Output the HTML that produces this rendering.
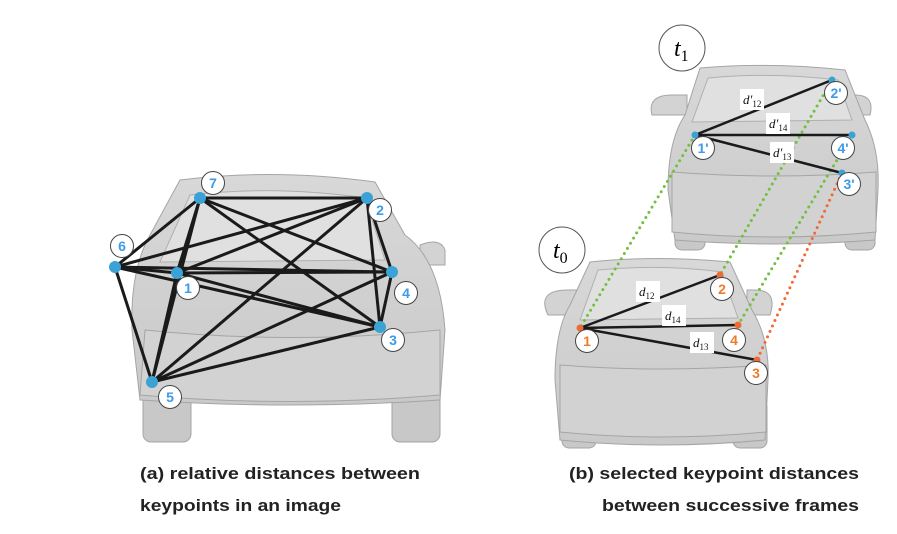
<!DOCTYPE html>
<html><head><meta charset="utf-8"><style>
html,body{margin:0;padding:0;background:#fff;}
svg{display:block;font-family:"Liberation Sans",sans-serif;}
</style></head><body>
<svg width="897" height="534" viewBox="0 0 897 534">
<defs>
<linearGradient id="gl" x1="0" y1="0" x2="0" y2="1"><stop offset="0" stop-color="#d8d8d8"/><stop offset="1" stop-color="#c9c9c9"/></linearGradient>
</defs>
<!-- LEFT CAR -->
<g stroke="#a5a5a5" stroke-width="1">
<rect x="143" y="385" width="48" height="57" rx="8" fill="#c8c8c8"/>
<rect x="392" y="385" width="48" height="57" rx="8" fill="#c8c8c8"/>
<path d="M420 245 q20 -8 25 5 v15 h-25z" fill="#d3d3d3"/>
<path d="M180 180 Q275 168 375 182 L405 235 Q440 260 445 330 L440 400 Q290 410 140 400 L132 330 Q130 270 150 235 Z" fill="url(#gl)"/>
<path d="M190 195 Q275 185 365 198 L385 260 L160 262 Z" fill="#e0e0e0" stroke="#b0b0b0"/>
<path d="M145 330 Q290 345 440 330 L440 395 Q290 408 140 395 Z" fill="#d2d2d2"/>
</g>
<!-- RIGHT TOP CAR -->
<g stroke="#a5a5a5" stroke-width="1">
<rect x="675" y="200" width="30" height="50" rx="7" fill="#c8c8c8"/>
<rect x="845" y="200" width="30" height="50" rx="7" fill="#c8c8c8"/>
<path d="M652 115 q-5 -20 20 -20 h15 v20z" fill="#d3d3d3"/>
<path d="M870 115 q5 -20 -15 -20 h-10 v20z" fill="#d3d3d3"/>
<path d="M700 68 Q770 62 845 70 L865 120 Q880 150 878 190 L875 240 Q775 248 675 240 L668 190 Q668 140 685 115 Z" fill="url(#gl)"/>
<path d="M708 78 Q770 72 838 80 L852 120 L692 122 Z" fill="#e0e0e0" stroke="#b0b0b0"/>
<path d="M672 172 Q775 180 876 172 L876 232 Q775 242 672 232 Z" fill="#d2d2d2"/>
</g>
<!-- RIGHT BOTTOM CAR -->
<g stroke="#a5a5a5" stroke-width="1">
<rect x="562" y="400" width="34" height="48" rx="7" fill="#c8c8c8"/>
<rect x="733" y="400" width="34" height="48" rx="7" fill="#c8c8c8"/>
<path d="M548 315 q-12 -25 20 -25 h10 v25z" fill="#d3d3d3"/>
<path d="M770 315 q8 -25 -15 -25 h-8 v25z" fill="#d3d3d3"/>
<path d="M590 262 Q655 255 730 262 L752 310 Q770 340 768 380 L765 440 Q660 450 560 440 L555 380 Q555 330 570 305 Z" fill="url(#gl)"/>
<path d="M598 270 Q660 264 722 272 L738 318 L580 320 Z" fill="#e0e0e0" stroke="#b0b0b0"/>
<path d="M560 365 Q660 373 766 365 L766 432 Q660 442 560 432 Z" fill="#d2d2d2"/>
</g>
<g id="marks"></g>
<g font-style="italic" font-family="Liberation Serif,serif">
<g><circle cx="682" cy="48" r="23" fill="#fff" stroke="#555"/><text x="674" y="56" font-size="24">t<tspan font-size="16" font-style="normal" dy="5">1</tspan></text></g>
<g><circle cx="562" cy="250" r="23" fill="#fff" stroke="#555"/><text x="553" y="258" font-size="24">t<tspan font-size="16" font-style="normal" dy="5">0</tspan></text></g>
</g>
<g font-size="17" fill="#222" font-weight="bold">
<text x="140" y="479" textLength="280" lengthAdjust="spacingAndGlyphs">(a) relative distances between</text>
<text x="140" y="511" textLength="201" lengthAdjust="spacingAndGlyphs">keypoints in an image</text>
</g>
<g font-size="17" fill="#222" font-weight="bold">
<text x="569" y="479" textLength="290" lengthAdjust="spacingAndGlyphs">(b) selected keypoint distances</text>
<text x="602" y="511" textLength="257" lengthAdjust="spacingAndGlyphs">between successive frames</text>
</g>
</svg>
<script>
const leftIds=["1","2","3","4","5","6","7"];
const leftX=[177,367,380,392,152,115,200];
const leftY=[273,198,327,272,382,267,198];
const leftLabelX=[188,380,393,406,170,122,213];
const leftLabelY=[288,210,340,293,397,246,183];
const t1Ids=["1'","2'","3'","4'"];
const t1X=[695,832,842,852];const t1Y=[135,80,173,135];
const t1LX=[703,836,849,843];const t1LY=[148,93,184,148];
const t0Ids=["1","2","3","4"];
const t0X=[580,720,757,738];const t0Y=[328,275,360,325];
const t0LX=[587,722,756,734];const t0LY=[341,289,373,340];
const distPairs=[[1,"12"],[3,"14"],[2,"13"]];
const t1DX=[752,778,782];const t1DY=[100,124,153];
const t0DX=[648,674,702];const t0DY=[292,316,343];
const NS="http://www.w3.org/2000/svg";
const g=document.getElementById('marks');
function mk(tag,a,p){const e=document.createElementNS(NS,tag);for(const k in a)e.setAttribute(k,a[k]);(p||g).appendChild(e);return e;}
for(let i=0;i<7;i++)for(let j=i+1;j<7;j++){
 const l=mk('line',{x1:leftX[i],y1:leftY[i],x2:leftX[j],y2:leftY[j],stroke:'#1a1a1a','stroke-width':3});
 
 
}
function kp(x,y,lx,ly,id,col,dotcol,prefix,r){
 const d=mk('circle',{cx:x,cy:y,r:r,fill:dotcol});
 
 
 const c=mk('circle',{cx:lx,cy:ly,r:11.5,fill:'#fff',stroke:'#444','stroke-width':1});
 
 
 const t=mk('text',{x:lx,y:ly+5,'text-anchor':'middle','font-size':14,'font-weight':'bold',fill:col});
 t.textContent=id;
 
 
}
for(let i=0;i<7;i++)kp(leftX[i],leftY[i],leftLabelX[i],leftLabelY[i],leftIds[i],'#3d9be9','#3ba2d6','left-',6);
for(let i=0;i<4;i++){
 const col=i===2?'#ef6a35':'#72c040';
 const l=mk('line',{x1:t1X[i],y1:t1Y[i],x2:t0X[i],y2:t0Y[i],stroke:col,'stroke-width':3,'stroke-dasharray':'0 6','stroke-linecap':'round'});
 
 
}
function dists(X,Y,DX,DY,prefix,prime){
 for(let k=0;k<3;k++){
  const j=distPairs[k][0];
  const l=mk('line',{x1:X[0],y1:Y[0],x2:X[j],y2:Y[j],stroke:'#1a1a1a','stroke-width':2.5});
  
  
 }
 for(let k=0;k<3;k++){
  const r=mk('rect',{x:DX[k]-12,y:DY[k]-11,width:24,height:21,fill:'#fff'});
  
  
  const t=mk('text',{x:DX[k]-9,y:DY[k]+4,'font-size':13,'font-family':'Liberation Serif,serif','font-style':'italic',fill:'#111'});
  t.innerHTML='d'+(prime?'′':'')+'<tspan font-size="9" font-style="normal" dy="3">'+distPairs[k][1]+'</tspan>';
  
  
 }
}
dists(t1X,t1Y,t1DX,t1DY,'t1-',true);
dists(t0X,t0Y,t0DX,t0DY,'t0-',false);
for(let i=0;i<4;i++)kp(t1X[i],t1Y[i],t1LX[i],t1LY[i],t1Ids[i],'#3d9be9','#3ba2d6','t1-',3.5);
for(let i=0;i<4;i++)kp(t0X[i],t0Y[i],t0LX[i],t0LY[i],t0Ids[i],'#ef7b2c','#ef6a35','t0-',3.5);
</script>
</body></html>
